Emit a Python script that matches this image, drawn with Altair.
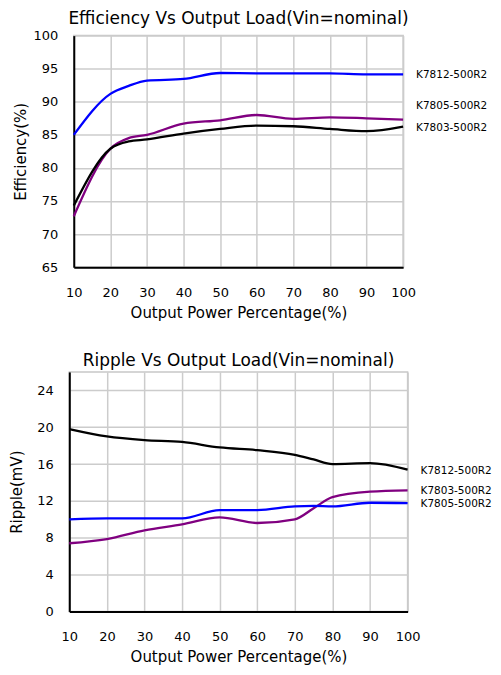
import altair as alt
import pandas as pd

# ---- Efficiency chart data ----
eff_x = [10, 20, 25, 30, 40, 50, 60, 70, 80, 90, 100]
eff_k7812 = [85.0, 91.2, 92.4, 93.2, 93.45, 94.35, 94.3, 94.3, 94.3, 94.15, 94.15]
eff_k7805 = [72.7, 82.9, 84.5, 85.0, 86.7, 87.2, 88.0, 87.4, 87.65, 87.5, 87.3]
eff_k7803 = [74.3, 82.9, 84.0, 84.3, 85.2, 85.9, 86.4, 86.3, 85.9, 85.55, 86.25]
eff_series = ["K7812-500R2", "K7805-500R2", "K7803-500R2"]
eff_colors = ["#0000ff", "#800080", "#000000"]
eff_label_y = [94.1, 89.4, 86.0]

# ---- Ripple chart data ----
rip_x = [10, 20, 30, 40, 50, 60, 70, 75, 80, 90, 100]
rip_k7812 = [19.8, 19.0, 18.6, 18.4, 17.8, 17.5, 17.0, 16.5, 16.0, 16.1, 15.4]
rip_k7803 = [7.4, 7.85, 8.8, 9.45, 10.2, 9.6, 10.0, 11.2, 12.4, 13.0, 13.15]
rip_k7805 = [10.0, 10.1, 10.1, 10.1, 11.0, 11.0, 11.4, 11.45, 11.4, 11.8, 11.75]
rip_series = ["K7812-500R2", "K7803-500R2", "K7805-500R2"]
rip_colors = ["#000000", "#800080", "#0000ff"]
rip_label_y = [15.2, 13.1, 11.7]

x_ticks = [10, 20, 30, 40, 50, 60, 70, 80, 90, 100]
eff_ticks = [65, 70, 75, 80, 85, 90, 95, 100]
rip_ticks = [0, 4, 8, 12, 16, 20, 24]

FONT = "DejaVu Sans"


def long_df(xs, series, values):
    rows = []
    for name, vals in zip(series, values):
        for xv, yv in zip(xs, vals):
            rows.append({"x": xv, "y": yv, "series": name})
    return pd.DataFrame(rows)


def panel(df, labels_df, series, colors, ydom, yticks, title, ytitle, w, h):
    xaxis = alt.Axis(values=x_ticks, title="Output Power Percentage(%)",
                     labelOverlap=False, labelFlush=False)
    yaxis = alt.Axis(values=yticks, title=ytitle, labelOverlap=False, labelFlush=False,
                     minExtent=37, maxExtent=37)
    yscale = alt.Scale(domain=ydom, nice=False, zero=False)
    lines = alt.Chart(df).mark_line(interpolate="monotone", strokeWidth=2.3).encode(
        x=alt.X("x:Q", scale=alt.Scale(domain=[10, 100], nice=False), axis=xaxis),
        y=alt.Y("y:Q", scale=yscale, axis=yaxis),
        color=alt.Color("series:N", scale=alt.Scale(domain=series, range=colors), legend=None),
    )
    text = alt.Chart(labels_df).mark_text(align="left", baseline="middle", font=FONT,
                                          fontSize=10.5, color="black").encode(
        x=alt.value(w + 13), y=alt.Y("y:Q", scale=yscale, axis=yaxis), text="series:N")
    return alt.layer(lines, text).properties(
        width=w, height=h,
        title=alt.TitleParams(title, font=FONT, fontSize=17, fontWeight="normal",
                              anchor="middle", offset=2, color="black"),
    )


eff_df = long_df(eff_x, eff_series, [eff_k7812, eff_k7805, eff_k7803])
rip_df = long_df(rip_x, rip_series, [rip_k7812, rip_k7803, rip_k7805])
eff_lab = pd.DataFrame({"series": eff_series, "y": eff_label_y})
rip_lab = pd.DataFrame({"series": rip_series, "y": rip_label_y})

top = panel(eff_df, eff_lab, eff_series, eff_colors, [65, 100], eff_ticks,
            "Efficiency Vs Output Load(Vin=nominal)", "Efficiency(%)", 330, 232)
bottom = panel(rip_df, rip_lab, rip_series, rip_colors, [0, 26], rip_ticks,
               "Ripple Vs Output Load(Vin=nominal)", "Ripple(mV)", 339, 240)

chart = alt.vconcat(top, bottom, spacing=30, center=True).resolve_scale(
    color="independent"
).configure_view(
    stroke="#c8c8c8", strokeWidth=1.5
).configure_axis(
    domainColor="black", domainWidth=2, ticks=False,
    gridColor="#cccccc", gridWidth=1.5,
    labelFont=FONT, labelFontSize=13, labelColor="black", labelPadding=16,
    titleFont=FONT, titleFontSize=15, titleFontWeight="normal", titleColor="black",
).configure_axisX(titlePadding=6, labelPadding=19).configure_axisY(titlePadding=8).properties(
    padding={"left": 0, "top": 0, "right": 0, "bottom": 0}
)

chart.save("out.html", embed_options={"renderer": "svg", "actions": False})
